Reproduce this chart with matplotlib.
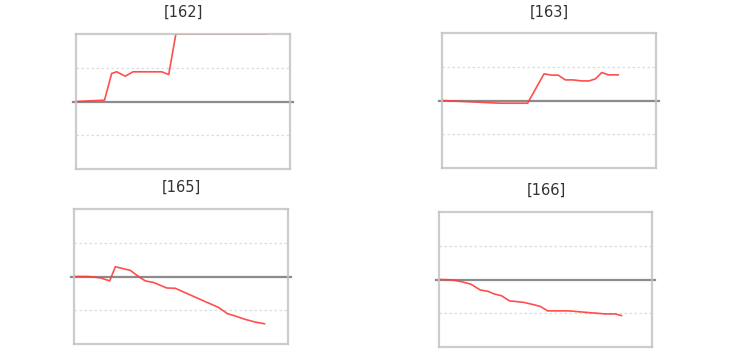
import matplotlib
matplotlib.use("Agg")
import matplotlib.pyplot as plt

# ---- data (x in days, y in value units) ----
titles = ["[162]", "[163]", "[165]", "[166]"]

x162 = [0, 4, 5, 5.7, 6.9, 8, 12, 13, 14, 26.7]
y162 = [0, 0.04, 0.83, 0.88, 0.75, 0.88, 0.88, 0.80, 2.0, 2.0]

x163 = [0, 8.1, 12, 14.3, 15.4, 16.3, 17.3, 18.4, 19.6, 20.6, 21.5, 22.4, 23.3, 24.7]
y163 = [0, -0.08, -0.08, 0.79, 0.75, 0.75, 0.61, 0.61, 0.58, 0.58, 0.64, 0.83, 0.76, 0.76]

x165 = [0, 2.0, 3.7, 5.0, 5.8, 7.9, 9.1, 10.0, 11.2, 13.0, 14.2, 15.8, 17.5,
        18.9, 20.3, 21.5, 22.6, 24.0, 25.4, 26.7]
y165 = [0, 0, -0.04, -0.13, 0.29, 0.18, -0.01, -0.13, -0.18, -0.34, -0.35,
        -0.50, -0.66, -0.79, -0.92, -1.10, -1.17, -1.27, -1.35, -1.40]

x166 = [0, 1.7, 3.1, 4.5, 5.8, 6.9, 7.8, 8.8, 9.9, 12.0, 13.4, 14.3, 15.3,
        18.3, 21.1, 23.4, 24.8, 25.7]
y166 = [0, -0.01, -0.06, -0.14, -0.31, -0.35, -0.43, -0.48, -0.63, -0.68,
        -0.75, -0.80, -0.93, -0.93, -0.98, -1.02, -1.02, -1.07]

xs = [x162, x163, x165, x166]
ys = [y162, y163, y165, y166]

X_MAX = 30
Y_LIM = 2
GRID_Y = [-1, 1]

# ---- layout (pixels: left, top, right, bottom) ----
W, H = 732, 352
boxes = [(76, 34, 290, 169), (442, 33, 656, 168),
         (74, 209, 288, 344), (439, 212, 652, 347)]
title_pos = [(183, 12), (549, 12), (181, 187), (546, 190)]

fig = plt.figure(figsize=(W / 100, H / 100), dpi=100)
fig.patch.set_facecolor("white")

for i in range(4):
    l, t, r, b = boxes[i]
    ax = fig.add_axes([l / W, 1 - b / H, (r - l) / W, (b - t) / H])
    ax.set_xlim(0, X_MAX)
    ax.set_ylim(-Y_LIM, Y_LIM)
    ax.set_xticks([])
    ax.set_yticks([])
    for s in ax.spines.values():
        s.set_color("#c4c4c4")
        s.set_linewidth(1.6)
        s.set_alpha(0.85)
        s.set_zorder(4)
    for g in GRID_Y:
        ax.axhline(g, color="#dddddd", lw=0.9, ls=(0, (2, 2)), zorder=1)
    ax.axhline(0, xmin=-0.012, xmax=1.012, color="#8c8c8c", lw=1.6,
               clip_on=False, zorder=2)
    ax.plot(xs[i], ys[i], color="#ff3b3b", lw=1.2, zorder=3, alpha=0.9)
    tx, ty = title_pos[i]
    fig.text(tx / W, 1 - ty / H, titles[i], ha="center", va="center",
             fontsize=10.5, color="#333333")

fig.savefig("out.png", dpi=100)
